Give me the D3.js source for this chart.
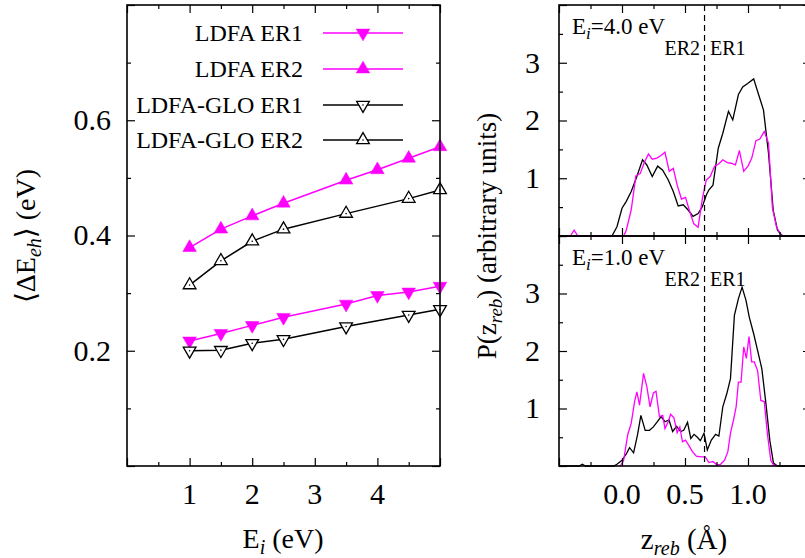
<!DOCTYPE html>
<html>
<head>
<meta charset="utf-8">
<script src="https://cdn.jsdelivr.net/npm/d3@7"></script>
<style>
  body { margin: 0; background: #fff; }
  svg { display: block; }
  text { font-family: "Liberation Serif", "Times New Roman", "DejaVu Serif", serif; fill: #000; }
</style>
</head>
<body>
<svg id="chart" width="805" height="558"></svg>
<script>
// ---- data: left panel, mean e-h energy vs incidence energy
const energies = [1, 1.5, 2, 2.5, 3.5, 4, 4.5, 5];
const ldfaER1 = [0.217, 0.230, 0.244, 0.258, 0.281, 0.296, 0.302, 0.312];
const ldfaER2 = [0.379, 0.411, 0.434, 0.456, 0.496, 0.514, 0.534, 0.554];
const gloEnergies = [1, 1.5, 2, 2.5, 3.5, 4.5, 5];
const gloER1 = [0.200, 0.201, 0.213, 0.220, 0.242, 0.262, 0.272];
const gloER2 = [0.314, 0.356, 0.390, 0.411, 0.438, 0.464, 0.479];

const legendLabels = ["LDFA ER1", "LDFA ER2", "LDFA-GLO ER1", "LDFA-GLO ER2"];
const xTicksE = [1, 2, 3, 4];
const yTicksE = [0.2, 0.4, 0.6];

// ---- data: right panel, P(z_reb) distributions [z, P]
const p4GLO = [[-0.5,0],[-0.08,0],[-0.04,0.16],[0.0,0.48],[0.034,0.6],[0.073,0.77],[0.113,1.0],[0.163,1.32],[0.197,1.23],[0.24,1.03],[0.283,1.21],[0.323,1.14],[0.367,0.97],[0.407,0.77],[0.446,0.52],[0.486,0.54],[0.525,0.45],[0.564,0.34],[0.604,0.39],[0.638,0.51],[0.669,0.71],[0.69,0.8],[0.722,0.88],[0.764,1.52],[0.8,1.78],[0.845,2.16],[0.879,2.01],[0.924,2.45],[0.958,2.58],[0.997,2.64],[1.045,2.72],[1.084,2.45],[1.123,2.18],[1.163,1.43],[1.2,0.45],[1.234,0.1],[1.273,0],[1.5,0]];
const p4LDFA = [[-0.41,0],[-0.38,0.1],[-0.35,0],[0.013,0],[0.034,0.1],[0.073,0.45],[0.11,1.04],[0.144,1.08],[0.176,1.27],[0.21,1.42],[0.24,1.33],[0.276,1.35],[0.307,1.39],[0.341,1.45],[0.375,1.12],[0.407,1.17],[0.438,0.88],[0.472,0.64],[0.504,0.67],[0.538,0.42],[0.57,0.21],[0.604,0.15],[0.638,0.65],[0.669,0.97],[0.7,1.03],[0.735,1.21],[0.769,1.25],[0.8,1.32],[0.835,1.27],[0.866,1.26],[0.9,1.23],[0.932,1.48],[0.966,1.12],[1.0,1.21],[1.03,1.35],[1.063,1.65],[1.094,1.68],[1.129,1.81],[1.163,1.61],[1.194,0.48],[1.226,0.16],[1.26,0.02],[1.286,0]];
const p1GLO = [[-0.5,0],[-0.34,0],[-0.315,0.03],[-0.29,0],[-0.066,0],[-0.04,0.03],[0.0,0.1],[0.034,0.21],[0.06,0.32],[0.092,0.23],[0.123,0.54],[0.15,0.88],[0.184,0.62],[0.218,0.62],[0.249,0.68],[0.281,0.77],[0.31,0.86],[0.341,0.77],[0.373,0.8],[0.402,0.6],[0.433,0.69],[0.465,0.6],[0.49,0.62],[0.52,0.76],[0.546,0.48],[0.572,0.55],[0.598,0.5],[0.622,0.44],[0.651,0.57],[0.677,0.28],[0.709,0.45],[0.743,0.55],[0.769,0.52],[0.8,1.03],[0.832,1.26],[0.861,1.52],[0.892,2.62],[0.924,2.91],[0.953,3.11],[0.984,2.88],[1.01,2.59],[1.045,2.3],[1.076,2.01],[1.11,1.69],[1.142,1.09],[1.173,0.45],[1.202,0.05],[1.234,0],[1.5,0]];
const p1LDFA = [[-0.013,0],[0.013,0.1],[0.045,0.54],[0.073,0.74],[0.1,1.12],[0.118,1.29],[0.139,1.06],[0.171,1.61],[0.197,1.38],[0.223,1.03],[0.249,1.27],[0.27,1.3],[0.297,0.86],[0.323,0.88],[0.341,0.65],[0.367,0.77],[0.386,0.9],[0.412,0.84],[0.438,0.58],[0.459,0.68],[0.48,0.42],[0.504,0.45],[0.53,0.36],[0.559,0.25],[0.59,0.17],[0.63,0.16],[0.661,0.16],[0.69,0.06],[0.722,0.08],[0.753,0.02],[0.782,0.03],[0.814,0.1],[0.84,0.25],[0.861,0.57],[0.885,0.8],[0.906,1.03],[0.924,1.46],[0.945,1.46],[0.966,2.07],[0.987,1.87],[1.008,2.25],[1.029,1.81],[1.05,1.81],[1.076,1.66],[1.102,1.14],[1.129,1.12],[1.155,0.54],[1.181,0.1],[1.202,0.02],[1.234,0]];

const zTicks = [0, 0.5, 1];
const pTicks = [1, 2, 3];
const zDivider = 0.655;
const panels = [
  { energy: "4.0", glo: p4GLO, ldfa: p4LDFA },
  { energy: "1.0", glo: p1GLO, ldfa: p1LDFA }
];

const MAGENTA = "#ff00ff";
const SERIF = "'Liberation Serif', 'Times New Roman', 'DejaVu Serif', serif";
const svg = d3.select("#chart").style("font-family", SERIF);

// ticks on all four sides, pointing inward
function drawTicks(g, x, y, xMaj, xMin, yMaj, yMin) {
  const [x0, x1] = x.range(), [y0, y1] = y.range();
  const add = (axis, tr) => g.append("g").attr("transform", tr).call(axis)
    .call(s => s.select(".domain").remove())
    .call(s => s.selectAll("line").attr("stroke", "#000").attr("stroke-width", 1.2));
  [[xMaj, 8], [xMin, 4]].forEach(([vals, len]) => {
    add(d3.axisBottom(x).tickValues(vals).tickSize(-len).tickFormat(""), `translate(0,${y0})`);
    add(d3.axisTop(x).tickValues(vals).tickSize(-len).tickFormat(""), `translate(0,${y1})`);
  });
  [[yMaj, 8], [yMin, 4]].forEach(([vals, len]) => {
    add(d3.axisLeft(y).tickValues(vals).tickSize(-len).tickFormat(""), `translate(${x0},0)`);
    add(d3.axisRight(y).tickValues(vals).tickSize(-len).tickFormat(""), `translate(${x1},0)`);
  });
}

function frame(g, x, y) {
  const [x0, x1] = x.range(), [y0, y1] = y.range();
  g.append("rect").attr("x", x0).attr("y", y1).attr("width", x1 - x0).attr("height", y0 - y1)
    .attr("fill", "none").attr("stroke", "#000").attr("stroke-width", 1.6);
}

function marker(g, cx, cy, down, filled) {
  const sym = d3.symbol().type(d3.symbolTriangle).size(filled ? 80 : 70);
  g.append("path").attr("d", sym())
    .attr("transform", `translate(${cx},${cy}) rotate(${down ? 180 : 0})`)
    .attr("fill", filled ? MAGENTA : "#fff")
    .attr("stroke", filled ? MAGENTA : "#000").attr("stroke-width", filled ? 0.5 : 1.3);
  if (!filled) g.append("circle").attr("cx", cx).attr("cy", cy).attr("r", 0.8).attr("fill", "#000");
}

// parts: [main, subscript, rest]
function subText(g, x, y, size, parts, rotate) {
  const t = g.append("text").attr("text-anchor", "middle").attr("font-size", size)
    .style("font-family", SERIF);
  if (rotate) t.attr("transform", `translate(${x},${y}) rotate(-90)`);
  else t.attr("x", x).attr("y", y);
  const sh = Math.round(size * 0.22);
  t.append("tspan").text(parts[0]);
  t.append("tspan").attr("dy", sh).attr("font-size", Math.round(size * 0.7)).attr("font-style", "italic").text(parts[1]);
  t.append("tspan").attr("dy", -sh).text(parts[2]);
  return t;
}

// ---------- left panel ----------
const xE = d3.scaleLinear().domain([0, 5]).range([127, 440]);
const yE = d3.scaleLinear().domain([0, 0.8]).range([466, 5]);
const left = svg.append("g");

const series = [
  { xs: energies, ys: ldfaER1, color: MAGENTA, down: true, filled: true },
  { xs: energies, ys: ldfaER2, color: MAGENTA, down: false, filled: true },
  { xs: gloEnergies, ys: gloER1, color: "#000", down: true, filled: false },
  { xs: gloEnergies, ys: gloER2, color: "#000", down: false, filled: false }
];

series.forEach(s => {
  const pts = s.xs.map((e, i) => [xE(e), yE(s.ys[i])]);
  left.append("path").attr("d", d3.line()(pts)).attr("fill", "none")
    .attr("stroke", s.color).attr("stroke-width", 1.5);
  pts.forEach(p => marker(left, p[0], p[1], s.down, s.filled));
});

drawTicks(left, xE, yE, d3.range(0, 5.01, 1), d3.range(0.5, 5, 1), d3.range(0, 0.81, 0.2), d3.range(0.1, 0.8, 0.2));
frame(left, xE, yE);

left.selectAll(".xl").data(xTicksE).join("text")
  .attr("x", d => xE(d)).attr("y", 504).attr("text-anchor", "middle")
  .attr("font-size", 30).text(d => d);
left.selectAll(".yl").data(yTicksE).join("text")
  .attr("x", 111).attr("y", d => yE(d)).attr("dy", "0.33em").attr("text-anchor", "end")
  .attr("font-size", 30).text(d => d.toFixed(1));

// legend
const legRows = [33, 69, 105, 140];
series.forEach((s, i) => {
  const ly = legRows[i];
  left.append("text").attr("x", 303).attr("y", ly + 8).attr("text-anchor", "end")
    .attr("font-size", 24).text(legendLabels[i]);
  left.append("line").attr("x1", 323).attr("x2", 403).attr("y1", ly).attr("y2", ly)
    .attr("stroke", s.color).attr("stroke-width", 1.5);
  marker(left, 363, ly, s.down, s.filled);
});

// axis titles
subText(left, 283, 548, 28, ["E", "i", " (eV)"]);
subText(left, 35, 236, 28, ["\u27E8\u0394E", "eh", "\u27E9 (eV)"], true);

// ---------- right panel ----------
const xZ = d3.scaleLinear().domain([-0.5, 1.5]).range([559, 811]);
const bands = [[5, 236], [236, 466]];
const right = svg.append("g");

panels.forEach((p, k) => {
  const [top, bottom] = bands[k];
  const yP = d3.scaleLinear().domain([0, 4]).range([bottom, top]);
  const g = right.append("g");
  const line = d3.line().x(d => xZ(d[0])).y(d => yP(d[1]));

  g.append("path").attr("d", line(p.glo)).attr("fill", "none").attr("stroke", "#000").attr("stroke-width", 1.3);
  g.append("path").attr("d", line(p.ldfa)).attr("fill", "none").attr("stroke", MAGENTA).attr("stroke-width", 1.3);

  g.append("line").attr("x1", xZ(zDivider)).attr("x2", xZ(zDivider)).attr("y1", yP(4)).attr("y2", yP(0))
    .attr("stroke", "#000").attr("stroke-width", 1.2).attr("stroke-dasharray", "6,4");

  drawTicks(g, xZ, yP, d3.range(-0.5, 1.51, 0.5), d3.range(-0.25, 1.5, 0.5), d3.range(0, 4.01, 1), d3.range(0.5, 4, 1));
  frame(g, xZ, yP);

  g.selectAll(".pl").data(pTicks).join("text")
    .attr("x", 540).attr("y", d => yP(d)).attr("dy", "0.33em").attr("text-anchor", "end")
    .attr("font-size", 30).text(d => d);

  const t = g.append("text").attr("x", 572).attr("y", top + 29).attr("font-size", 23);
  t.append("tspan").text("E");
  t.append("tspan").attr("dy", 5).attr("font-size", 17).attr("font-style", "italic").text("i");
  t.append("tspan").attr("dy", -5).text(`=${p.energy} eV`);

  g.append("text").attr("x", 700).attr("y", top + 50).attr("text-anchor", "end").attr("font-size", 20).text("ER2");
  g.append("text").attr("x", 710).attr("y", top + 50).attr("font-size", 20).text("ER1");
});

right.selectAll(".zl").data(zTicks).join("text")
  .attr("x", d => xZ(d)).attr("y", 504).attr("text-anchor", "middle")
  .attr("font-size", 30).text(d => d.toFixed(1));

subText(right, 684, 549, 29, ["z", "reb", " (\u00C5)"]);
subText(right, 496, 236, 27, ["P(z", "reb", ") (arbitrary units)"], true);
</script>
</body>
</html>
